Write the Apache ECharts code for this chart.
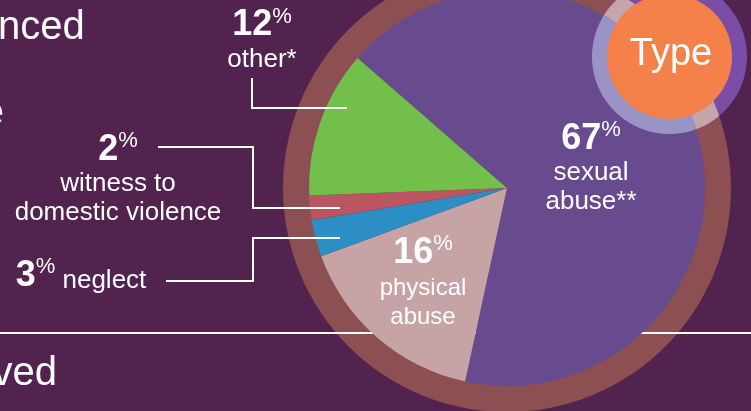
<!DOCTYPE html>
<html>
<head>
<meta charset="utf-8">
<style>
  html, body { margin: 0; padding: 0; background: #52234e; }
  #chart { width: 751px; height: 411px; }
</style>
<script src="https://cdn.jsdelivr.net/npm/echarts@6/dist/echarts.min.js"></script>
</head>
<body>
<div id="chart"></div>
<script>
const categories = ['sexual abuse**', 'physical abuse', 'neglect', 'witness to domestic violence', 'other*'];
const values = [67, 16, 3, 2, 12];
const labelLines = [['sexual', 'abuse**'], ['physical', 'abuse'], ['neglect'], ['witness to', 'domestic violence'], ['other*']];
const headingBits = ['nced', 'e', 'ved'];
const badgeText = 'Type';

const font = '"Liberation Sans", Arial, Helvetica, sans-serif';
const sliceColors = ['#684a8e', '#c6a4a6', '#2b8fc6', '#bb5561', '#72bf4b'];
const bg = '#52234e';

// pie geometry (px)
const P = [507, 188];
const pieR = 198, ringR = 224;
// "Type" badge geometry
const T = [669.5, 56.5];
const badgeR0 = 62.5, badgeR = 77.5;

// where each label sits, and its connector
const labelPos = [
  { x: 591, y: 167 },
  { x: 423, y: 281 },
  { x: 81, y: 275, line: [[166, 281], [253, 281], [253, 238], [340, 238]] },
  { x: 118, y: 178, line: [[158, 147], [253, 147], [253, 208], [340, 208]] },
  { x: 262, y: 39, line: [[252, 78], [252, 108], [347, 108]] }
];

function circleHits(c0, r0, c1, r1) {
  const dx = c1[0] - c0[0], dy = c1[1] - c0[1], d = Math.hypot(dx, dy);
  const a = (r0 * r0 - r1 * r1 + d * d) / (2 * d);
  const h = Math.sqrt(r0 * r0 - a * a);
  const mx = c0[0] + a * dx / d, my = c0[1] + a * dy / d;
  return [[mx - h * dy / d, my + h * dx / d], [mx + h * dy / d, my - h * dx / d]];
}
function arcPts(c, r, p, q, n) {
  const a0 = Math.atan2(p[1] - c[1], p[0] - c[0]);
  let da = Math.atan2(q[1] - c[1], q[0] - c[0]) - a0;
  while (da > Math.PI) da -= 2 * Math.PI;
  while (da < -Math.PI) da += 2 * Math.PI;
  const pts = [];
  for (let i = 0; i <= n; i++) {
    const t = a0 + da * i / n;
    pts.push([c[0] + r * Math.cos(t), c[1] + r * Math.sin(t)]);
  }
  return pts;
}
const [a1, a2] = circleHits(P, ringR, T, badgeR);
const [b1, b2] = circleHits(P, pieR, T, badgeR);
const overRing = [].concat(
  arcPts(P, ringR, a1, a2, 30), arcPts(T, badgeR, a2, b2, 10),
  arcPts(P, pieR, b2, b1, 30), arcPts(T, badgeR, b1, a1, 10));
const overPie = [].concat(arcPts(P, pieR, b1, b2, 30), arcPts(T, badgeR, b2, b1, 40));

function fmt(i) {
  const v = '{n|' + values[i] + '}{p|%}';
  const t = i === 1 ? 's' : 't';
  if (i === 2) return v + '{' + t + '| ' + labelLines[i][0] + '}';
  return v + '\n' + labelLines[i].map(s => '{' + t + '|' + s + '}').join('\n');
}

// connectors sit above the slices
const connectors = labelPos.filter(o => o.line).map(o => ({
  type: 'polyline', z: 5, silent: true,
  shape: { points: o.line },
  style: { stroke: '#fff', lineWidth: 2, fill: null }
}));

const chart = echarts.init(document.getElementById('chart'));
chart.setOption({
  animation: false,
  backgroundColor: bg,
  textStyle: { fontFamily: font },
  graphic: { elements: [
    { type: 'ring', z: 0, silent: true, shape: { cx: P[0], cy: P[1], r: ringR, r0: pieR - 1 }, style: { fill: '#8d5052' } },
    { type: 'line', z: 1, silent: true, shape: { x1: 0, y1: 333, x2: 751, y2: 333 }, style: { stroke: '#fff', lineWidth: 2 } },
    { type: 'circle', z: 10, silent: true, shape: { cx: T[0], cy: T[1], r: badgeR }, style: { fill: '#7b4da7' } },
    { type: 'polygon', z: 11, silent: true, shape: { points: overRing }, style: { fill: '#c4a5aa' } },
    { type: 'polygon', z: 11, silent: true, shape: { points: overPie }, style: { fill: '#9a93c6' } },
    { type: 'circle', z: 12, silent: true, shape: { cx: T[0], cy: T[1], r: badgeR0 }, style: { fill: '#f4804a' } },
    { type: 'text', z: 13, silent: true, x: 671, y: 55, style: { text: badgeText, font: '38px ' + font, fill: '#fff', align: 'center', verticalAlign: 'middle' } },
    { type: 'text', z: 13, silent: true, x: -2, y: 28, style: { text: headingBits[0], font: '40px ' + font, fill: '#fff', align: 'left', verticalAlign: 'middle' } },
    { type: 'text', z: 13, silent: true, x: 4, y: 114, style: { text: headingBits[1], font: '40px ' + font, fill: '#fff', align: 'right', verticalAlign: 'middle' } },
    { type: 'text', z: 13, silent: true, x: 57, y: 374, style: { text: headingBits[2], font: '40px ' + font, fill: '#fff', align: 'right', verticalAlign: 'middle' } }
  ].concat(connectors) },
  series: [{
    type: 'pie',
    z: 2,
    silent: true,
    center: P,
    radius: pieR,
    startAngle: 139,
    clockwise: true,
    avoidLabelOverlap: false,
    emphasis: { disabled: true },
    label: {
      color: '#fff',
      formatter: p => fmt(p.dataIndex),
      rich: {
        n: { fontSize: 36, fontWeight: 'bold', color: '#fff', lineHeight: 38, verticalAlign: 'bottom', fontFamily: font },
        p: { fontSize: 22, color: '#fff', lineHeight: 24, verticalAlign: 'top', fontFamily: font },
        t: { fontSize: 26, color: '#fff', lineHeight: 29, verticalAlign: 'bottom', fontFamily: font },
        s: { fontSize: 24, color: '#fff', lineHeight: 29, verticalAlign: 'bottom', fontFamily: font }
      }
    },
    labelLine: { show: false },
    labelLayout: p => {
      const o = labelPos[p.dataIndex];
      return { x: o.x, y: o.y, align: 'center', verticalAlign: 'middle' };
    },
    data: categories.map((name, i) => ({
      name: name,
      value: values[i],
      itemStyle: { color: sliceColors[i] },
      label: { position: labelPos[i].line ? 'outside' : 'inside' }
    }))
  }]
});
</script>
</body>
</html>
